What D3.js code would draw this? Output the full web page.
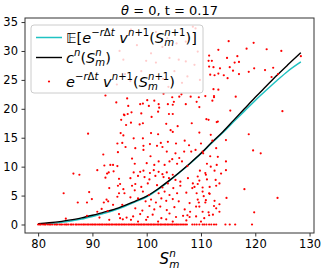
<!DOCTYPE html>
<html>
<head>
<meta charset="utf-8">
<script src="https://cdn.jsdelivr.net/npm/d3@7"></script>
<style>
  body { margin: 0; background: #fff; }
  text { font-family: "DejaVu Sans", sans-serif; fill: #000; }
</style>
</head>
<body>
<div id="vis-container"></div>
<script>

////////////////////////////////////
/////////////// Data ///////////////
////////////////////////////////////

const xTicks = [80, 90, 100, 110, 120, 130]
const yTicks = [0, 5, 10, 15, 20, 25, 30, 35]

// grid of S for the two curves
const curveS = [80, 82, 84, 86, 88, 90, 92, 94, 96, 98, 100, 102, 104, 106, 108, 110, 112, 114, 116, 118, 120, 122, 124, 126, 128.4]
// c^n(S_m^n)
const curveC = [0.15, 0.3, 0.5, 0.8, 1.15, 1.6, 2.1, 2.6, 3.3, 4.1, 4.9, 6.1, 7.5, 9.0, 10.6, 12.3, 14.2, 16.0, 18.0, 20.0, 22.0, 23.9, 25.8, 27.6, 29.7]
// E[e^{-r dt} v^{n+1}]
const curveE = [0.05, 0.15, 0.35, 0.6, 0.95, 1.4, 1.9, 2.45, 3.15, 3.95, 4.8, 6.0, 7.4, 8.95, 10.55, 12.25, 14.1, 15.85, 17.75, 19.6, 21.45, 23.2, 24.9, 26.5, 28.1]

// samples that ended out of the money (value 0)
const zeroS = [80.0, 80.3, 80.5, 80.9, 81.2, 81.4, 81.8, 82.1, 82.3, 82.6, 83.0, 83.3, 83.5, 83.9, 84.2, 84.4, 84.8, 85.1, 85.3, 85.6,
  86.0, 86.2, 86.5, 86.9, 87.1, 87.4, 87.7, 88.0, 88.3, 88.5, 88.8, 89.1, 89.3, 89.6, 89.9, 90.1, 90.4, 90.6, 90.9, 91.2,
  91.4, 91.7, 91.9, 92.2, 92.5, 92.7, 93.0, 93.2, 93.5, 93.7, 94.0, 94.3, 94.5, 94.8, 95.0, 95.3, 95.5, 95.8, 96.0, 96.3,
  96.6, 96.8, 97.1, 97.3, 97.6, 97.8, 98.1, 98.4, 98.6, 98.9, 99.1, 99.4, 99.6, 99.9, 100.2, 100.4, 100.7, 100.9, 101.2, 101.4,
  101.7, 102.0, 102.2, 102.5, 102.7, 103.0, 103.3, 103.5, 103.8, 104.0, 104.3, 104.6, 104.8, 105.1, 105.4, 105.6, 105.9, 106.2,
  106.5, 106.8, 107.1, 107.4, 108.4, 108.8, 109.2, 109.7, 110.3, 110.6, 111.0, 111.5, 111.9, 112.4, 112.8, 114.5, 115.3, 116.3, 119.4]

// samples with positive discounted value [S, value]
const samples = [
  [84.7, 5.4], [85.1, 1.0], [86.5, 8.8], [87.6, 8.6], [87.3, 3.8], [89.0, 3.8], [89.0, 1.5], [89.2, 15.7], [89.4, 5.6], [89.9, 4.4],
  [90.9, 9.4], [90.9, 2.2], [91.3, 1.2], [91.7, 2.7], [92.0, 12.1], [92.1, 3.8], [92.2, 10.2], [92.4, 8.1], [92.4, 22.3], [92.6, 4.3],
  [92.7, 8.8], [92.8, 2.3], [92.9, 4.0], [93.0, 9.0], [93.1, 6.3], [93.1, 0.8], [93.3, 10.3], [93.8, 3.4], [93.8, 10.3], [93.9, 9.2],
  [94.4, 21.1], [94.6, 10.1], [94.6, 14.0], [94.6, 4.8], [94.7, 12.5], [94.7, 6.7], [94.9, 7.9], [94.9, 5.4], [94.9, 1.8], [95.1, 7.0],
  [95.1, 1.1], [95.2, 15.8], [95.3, 18.1], [95.5, 14.1], [95.5, 3.4], [95.6, 0.9], [95.7, 15.4], [95.7, 6.1], [95.9, 18.9], [95.9, 5.4],
  [96.1, 13.4], [96.2, 17.2], [96.3, 1.2], [96.5, 19.1], [96.6, 20.5],
  [97.8, 10.5], [100.0, 10.6], [101.4, 10.3], [102.2, 10.9], [103.3, 10.3], [104.2, 10.9], [105.6, 10.5], [106.5, 10.9], [107.5, 10.1], [111.1, 10.5], [112.9, 10.3],
  [97.6, 9.0], [98.8, 9.1], [99.4, 9.3], [100.6, 8.9], [101.3, 9.4], [102.2, 9.1], [102.9, 8.7], [103.7, 9.0], [104.8, 8.6], [109.8, 9.3], [110.8, 8.9], [112.5, 9.3],
  [97.0, 8.0], [98.4, 8.4], [99.6, 8.2], [100.5, 7.8], [101.6, 8.4], [103.1, 8.2], [104.1, 8.0], [105.3, 7.7], [106.2, 7.4], [107.6, 8.0], [108.5, 7.1], [109.7, 7.6], [111.1, 7.8], [112.7, 7.7],
  [97.3, 6.7], [97.9, 7.0], [99.0, 6.5], [100.2, 7.1], [101.9, 6.8], [102.9, 6.4], [103.9, 7.1], [104.9, 6.3], [106.2, 6.7], [108.4, 6.3], [109.4, 7.0], [110.3, 6.4], [111.6, 6.5], [112.8, 6.7],
  [97.8, 5.9], [99.3, 5.7], [100.4, 5.1], [102.2, 5.4], [103.3, 5.7], [104.2, 5.1], [105.6, 5.4], [107.3, 5.5], [109.2, 5.4], [110.5, 4.9], [111.6, 5.3],
  [97.0, 4.7], [98.4, 4.5], [99.8, 4.0], [100.8, 4.3], [101.7, 3.8], [102.7, 4.5], [103.6, 4.1], [104.8, 4.4], [105.9, 4.0], [107.9, 3.7], [109.4, 4.3], [110.8, 3.8], [112.5, 4.1],
  [97.9, 2.8], [99.2, 2.4], [100.5, 3.2], [101.4, 2.6], [102.5, 3.1], [103.7, 2.5], [105.1, 3.0], [107.0, 2.6], [108.0, 2.2], [109.7, 3.1], [111.4, 2.1], [112.8, 2.8],
  [97.5, 1.4], [98.8, 1.8], [100.2, 1.3], [101.1, 1.7], [102.7, 1.1], [104.2, 1.9], [105.4, 1.3], [106.7, 1.5], [109.1, 1.4], [110.6, 1.1], [112.2, 1.7],
  [97.1, 0.8], [98.4, 0.5], [99.9, 0.8], [102.1, 0.5], [103.6, 0.9], [104.8, 0.5], [107.3, 0.7], [110.0, 0.5],
  [103.1, 22.6], [104.7, 22.0], [106.4, 22.5], [106.0, 22.1], [108.1, 22.1], [109.6, 22.0], [110.8, 22.2], [112.4, 22.2], [96.4, 21.8], [100.1, 21.5],
  [101.4, 21.4], [102.2, 20.8], [103.9, 20.8], [104.8, 20.7], [105.0, 21.2], [107.2, 20.8], [109.2, 21.2], [102.3, 20.2], [99.3, 20.9], [98.8, 20.8],
  [100.4, 20.5], [95.8, 19.0], [97.2, 19.4], [99.0, 19.2], [102.1, 19.5], [104.1, 19.1], [104.8, 19.1], [109.7, 20.3], [97.1, 17.6], [98.7, 17.3],
  [99.3, 17.5], [100.9, 18.6], [103.6, 17.4], [104.4, 16.3], [104.8, 16.0], [105.7, 17.0], [108.3, 17.5], [111.0, 18.2], [109.7, 15.9], [111.8, 15.5],
  [97.6, 14.9], [99.3, 14.9], [100.8, 15.8], [102.1, 15.6], [103.9, 14.3], [102.6, 14.1], [105.4, 14.0], [107.0, 14.5], [107.8, 13.7], [97.9, 13.2],
  [99.4, 13.6], [99.4, 12.9], [100.6, 13.9], [101.9, 13.6], [102.9, 13.4], [103.7, 12.6], [105.3, 12.3], [106.9, 12.6], [108.2, 12.6], [110.3, 12.6],
  [111.7, 11.8], [100.7, 11.8], [97.3, 11.4], [104.7, 11.3], [106.0, 11.5],
  [97.1, 33.7], [101.7, 33.3], [108.5, 34.2], [109.0, 33.9], [95.0, 30.0], [107.2, 31.6], [102.9, 30.7], [105.5, 31.3], [95.7, 28.5], [99.9, 28.3],
  [101.7, 28.0], [104.2, 28.8], [105.9, 28.5], [107.2, 28.2], [109.4, 29.9], [108.8, 27.6], [105.1, 26.5], [107.5, 25.6], [103.0, 25.2], [99.0, 26.5],
  [97.0, 24.8], [94.5, 24.2], [100.5, 24.0], [104.0, 23.8], [106.5, 24.5], [109.8, 25.0], [96.0, 26.0], [98.2, 31.0], [103.8, 32.2], [100.8, 29.6],
  [111.5, 29.2], [113.2, 30.2], [111.4, 28.3], [112.3, 27.2], [111.7, 25.9], [113.2, 26.1], [113.2, 23.3], [115.1, 31.7], [119.7, 31.4], [118.4, 30.4],
  [122.1, 30.3], [124.8, 30.0], [116.7, 29.1], [128.4, 29.1], [114.8, 28.8], [112.0, 28.3], [116.2, 28.0], [117.0, 28.1], [113.5, 27.0], [115.3, 27.2],
  [115.9, 26.6], [119.8, 27.0], [118.8, 26.4], [121.8, 26.7], [123.3, 27.1], [112.5, 25.8], [114.2, 25.8], [114.9, 25.3], [117.0, 26.0], [124.2, 26.0],
  [123.0, 25.5], [112.3, 23.4], [112.4, 22.0], [112.1, 21.4], [116.4, 22.1], [115.4, 19.7], [125.0, 19.6], [112.9, 17.7], [111.5, 27.3],
  [118.8, 15.6], [119.6, 12.8], [121.0, 12.3], [118.0, 6.1], [124.1, 4.6], [119.8, 2.1], [114.7, 4.6], [113.4, 3.5], [114.6, 10.9], [114.6, 9.4],
  [113.7, 8.8], [113.4, 7.1], [113.1, 11.7], [114.6, 14.6], [112.8, 13.2], [111.8, 10.0], [111.4, 18.1], [113.1, 17.8], [112.1, 14.5], [110.0, 14.0],
  [110.4, 12.3], [109.0, 12.9], [110.9, 8.6], [109.4, 8.3], [108.8, 6.5], [110.3, 5.7], [111.5, 5.4], [110.9, 4.2], [109.1, 3.1], [110.3, 2.2],
  [113.4, 2.2], [107.9, 1.3], [112.4, 3.2], [111.5, 1.6], [109.6, 3.8], [107.5, 1.6]
]

////////////////////////////////////
///////////// SVG Setup ////////////
////////////////////////////////////

const svgWidth = 325
const svgHeight = 272

const margin = { left: 25, right: 11, top: 18, bottom: 39 }
const width = svgWidth - margin.left - margin.right
const height = svgHeight - margin.top - margin.bottom

const root = d3.select('#vis-container')
  .append('svg')
  .attr('width', svgWidth)
  .attr('height', svgHeight)

const svg = root.append('g')
  .attr('transform', `translate(${margin.left},${margin.top})`)

////////////////////////////////////
/////////////// Scales /////////////
////////////////////////////////////

const xScale = d3.scaleLinear().domain([77.58, 130.82]).range([0, width])
const yScale = d3.scaleLinear().domain([-1.47, 35.7]).range([height, 0])

// little helper for matplotlib-like mathtext (sub/superscripts)
function mathText(g, x, y, size, parts, anchor) {
  const t = g.append('g')
  let cx = 0, markX = 0, markEnd = 0
  parts.forEach(p => {
    if (p.back) { markEnd = cx; cx = markX }
    if (p.mark) markX = cx
    const fs = p.lv ? size * 0.7 : size
    const dy = p.lv === 1 ? -0.44 * size : p.lv === -1 ? 0.27 * size : 0
    const el = t.append('text')
      .attr('x', cx)
      .attr('y', dy)
      .attr('font-size', fs)
      .attr('font-style', p.it ? 'italic' : 'normal')
      .style('white-space', 'pre')
      .text(p.s)
    cx += el.node().getComputedTextLength()
    if (p.end) cx = Math.max(cx, markEnd)
  })
  const shift = anchor === 'middle' ? -cx / 2 : 0
  t.attr('transform', `translate(${x + shift},${y})`)
  return t
}

////////////////////////////////////
////////////// Axis ////////////////
////////////////////////////////////

const xAxis = d3.axisBottom(xScale).tickValues(xTicks).tickSize(3.5).tickPadding(3.5)
const yAxis = d3.axisLeft(yScale).tickValues(yTicks).tickSize(3.5).tickPadding(3.5)

svg.append('g')
  .attr('transform', `translate(0,${height})`)
  .call(xAxis)
  .call(g => g.select('.domain').remove())
  .call(g => g.selectAll('text').attr('font-size', 11.5).attr('font-family', 'DejaVu Sans').attr('fill', '#000'))
  .call(g => g.selectAll('line').attr('stroke', '#333'))

svg.append('g')
  .call(yAxis)
  .call(g => g.select('.domain').remove())
  .call(g => g.selectAll('text').attr('font-size', 11.5).attr('font-family', 'DejaVu Sans').attr('fill', '#000'))
  .call(g => g.selectAll('line').attr('stroke', '#333'))

////////////////////////////////////
///////////// Curves ///////////////
////////////////////////////////////

const line = d3.line()
  .x(d => xScale(d[0]))
  .y(d => yScale(d[1]))
  .curve(d3.curveMonotoneX)

svg.append('path')
  .datum(curveS.map((s, i) => [s, curveE[i]]))
  .attr('d', line)
  .attr('fill', 'none')
  .attr('stroke', '#1fc2c2')
  .attr('stroke-width', 1.5)

svg.append('path')
  .datum(curveS.map((s, i) => [s, curveC[i]]))
  .attr('d', line)
  .attr('fill', 'none')
  .attr('stroke', '#000')
  .attr('stroke-width', 1.4)

////////////////////////////////////
///////////// Scatter //////////////
////////////////////////////////////

const points = zeroS.map(s => [s, 0]).concat(samples)

svg.selectAll('.dots')
  .data(points)
  .join('circle')
  .attr('class', 'dots')
  .attr('cx', d => xScale(d[0]))
  .attr('cy', d => yScale(d[1]))
  .attr('r', 1.1)
  .attr('fill', '#ff0000')

// frame
svg.append('rect')
  .attr('width', width)
  .attr('height', height)
  .attr('fill', 'none')
  .attr('stroke', '#333')
  .attr('stroke-width', 1)

////////////////////////////////////
///////////// Legend ///////////////
////////////////////////////////////

const legend = root.append('g')

legend.append('rect')
  .attr('x', 31).attr('y', 25)
  .attr('width', 172).attr('height', 68)
  .attr('rx', 3)
  .attr('fill', '#fff').attr('fill-opacity', 0.8)
  .attr('stroke', '#ccc').attr('stroke-width', 1)

legend.append('line').attr('x1', 36).attr('x2', 62).attr('y1', 37.5).attr('y2', 37.5)
  .attr('stroke', '#1fc2c2').attr('stroke-width', 1.5)
legend.append('line').attr('x1', 36).attr('x2', 62).attr('y1', 57.5).attr('y2', 57.5)
  .attr('stroke', '#000').attr('stroke-width', 1.4)
legend.append('circle').attr('cx', 49).attr('cy', 81.5).attr('r', 1.1).attr('fill', '#ff0000')

const lsz = 14.5
const discount = [
  { s: 'e', it: true },
  { s: '\u2212', lv: 1 }, { s: 'r', lv: 1, it: true }, { s: '\u0394', lv: 1 }, { s: 't', lv: 1, it: true },
  { s: ' v', it: true }, { s: 'n', lv: 1, it: true }, { s: '+1', lv: 1 },
  { s: '(' }, { s: 'S', it: true },
  { s: 'm', lv: -1, it: true, mark: true }, { s: 'n', lv: 1, it: true, back: true }, { s: '+1', lv: 1, end: true },
  { s: ')' }
]

mathText(legend, 66, 42.5, lsz, [{ s: '\ud835\udd3c[' }].concat(discount, [{ s: ']' }]))
mathText(legend, 66, 62.5, lsz, [
  { s: 'c', it: true }, { s: 'n', lv: 1, it: true }, { s: '(' }, { s: 'S', it: true },
  { s: 'm', lv: -1, it: true, mark: true }, { s: 'n', lv: 1, it: true, back: true, end: true }, { s: ')' }
])
mathText(legend, 66, 86.5, lsz, discount)

////////////////////////////////////
////////// Title & labels //////////
////////////////////////////////////

mathText(root, margin.left + width / 2, 14.5, 13, [
  { s: '\u03b8', it: true }, { s: ' = 0, t = 0.17' }
], 'middle')

mathText(root, margin.left + width / 2, 264, 15, [
  { s: 'S', it: true },
  { s: 'm', lv: -1, it: true, mark: true }, { s: 'n', lv: 1, it: true, back: true, end: true }
], 'middle')

</script>
</body>
</html>
